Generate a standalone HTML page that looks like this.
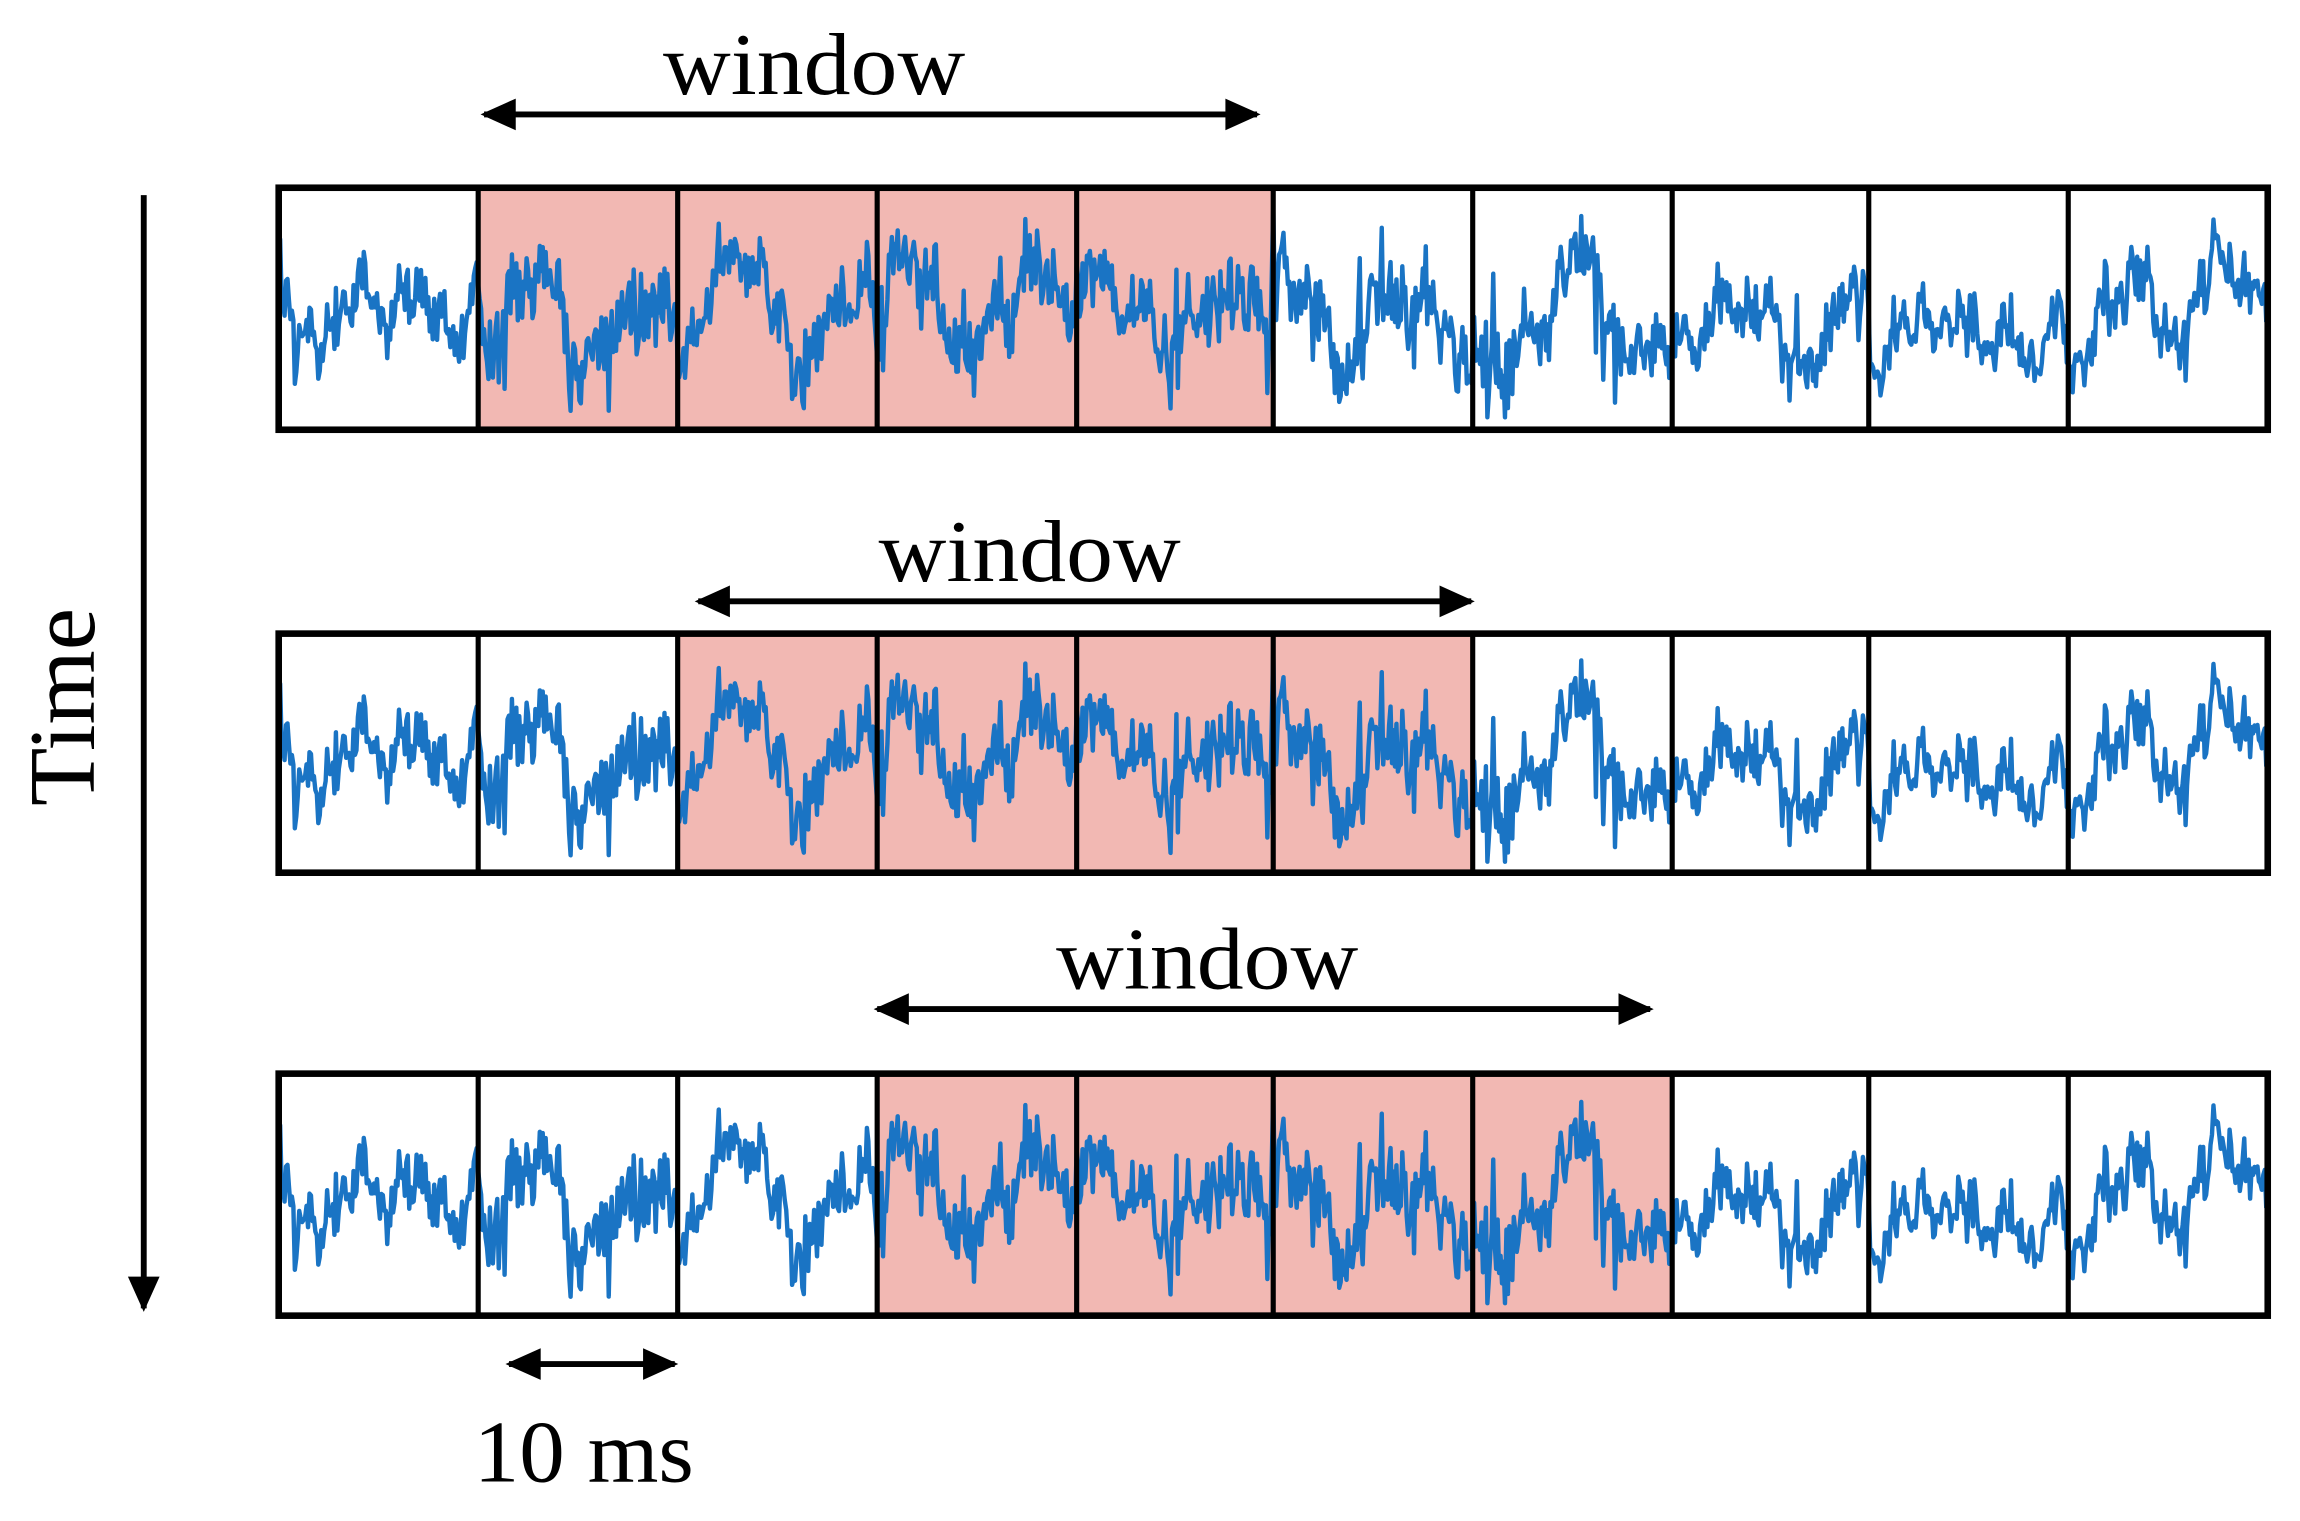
<!DOCTYPE html>
<html><head><meta charset="utf-8"><style>html,body{margin:0;padding:0;background:#fff}svg{display:block}</style></head>
<body>
<svg id="s" width="2300" height="1521" viewBox="0 0 1568 1037" preserveAspectRatio="none" xmlns="http://www.w3.org/2000/svg">
<defs>
<marker id="ah" viewBox="0 0 10 10" refX="9" refY="5" markerWidth="7" markerHeight="6" markerUnits="strokeWidth" orient="auto-start-reverse"><path d="M0,0.5 L10,5 L0,9.5 z" fill="#000"/></marker>
</defs>
<g id="rows"></g>
<g font-family="Liberation Serif, serif" fill="#000">
<text x="555" y="64" font-size="60" text-anchor="middle" textLength="206" lengthAdjust="spacingAndGlyphs">window</text>
<text x="702" y="396" font-size="60" text-anchor="middle" textLength="206" lengthAdjust="spacingAndGlyphs">window</text>
<text x="823" y="674" font-size="60" text-anchor="middle" textLength="206" lengthAdjust="spacingAndGlyphs">window</text>
<text x="398" y="1010" font-size="60" text-anchor="middle" textLength="150" lengthAdjust="spacingAndGlyphs">10 ms</text>
<text transform="translate(64,482) rotate(-90)" font-size="64" text-anchor="middle" textLength="135" lengthAdjust="spacingAndGlyphs">Time</text>
</g>
<g stroke="#000" stroke-width="4" fill="none">
<line x1="330" y1="78" x2="857" y2="78" marker-start="url(#ah)" marker-end="url(#ah)"/>
<line x1="476" y1="410" x2="1003" y2="410" marker-start="url(#ah)" marker-end="url(#ah)"/>
<line x1="598" y1="688" x2="1125" y2="688" marker-start="url(#ah)" marker-end="url(#ah)"/>
<line x1="347" y1="930" x2="460" y2="930" marker-start="url(#ah)" marker-end="url(#ah)"/>
<line x1="98" y1="133" x2="98" y2="892" marker-end="url(#ah)"/>
</g>
</svg>
<script>
(function(){
var ns="http://www.w3.org/2000/svg",g=document.getElementById("rows");
var b=[190,326,462,598,734,868,1004,1140,1274,1410,1546];
var rows=[[128,293,1,4],[432,595,2,5],[732,897,3,6]];
var seed=12345;function r(){seed=(seed*16807)%2147483647;return seed/2147483647;}
var N=1356,sig=[],lp=0;
var amp=[0.9,1.6,1.1,1.1,1.4,1.4,1.5,1.0,0.7,1.0];
for(var i=0;i<N;i++){var c=Math.min(9,Math.floor(i/135.6));
 lp=lp*0.95+(r()-0.5)*9;
 var hf=(r()-0.5)*40*amp[c]*(r()<0.15?1.8:0.7);
 var ph=(i%135.6)/135.6;
 var slow=Math.sin(ph*2*Math.PI*1.5+c)*22*amp[c];
 sig.push(Math.max(-72,Math.min(72,lp*2.5+hf+slow)));}
function el(n,a){var e=document.createElementNS(ns,n);for(var k in a)e.setAttribute(k,a[k]);g.appendChild(e);return e;}
rows.forEach(function(R){
 var t=R[0],bt=R[1];
 for(var c=R[2];c<=R[3];c++)el("rect",{x:b[c],y:t,width:b[c+1]-b[c],height:bt-t,fill:"#f2b8b3"});
 var cy=(t+bt)/2+2,p=[];
 for(var i=0;i<N;i+=1)p.push((190+i)+","+(cy+sig[i]).toFixed(1));
 el("polyline",{points:p.join(" "),fill:"none",stroke:"#1a74c4","stroke-width":3,"stroke-linejoin":"round"});
 el("rect",{x:190,y:t,width:1356,height:bt-t,fill:"none",stroke:"#000","stroke-width":4.5});
 for(var c=1;c<10;c++)el("line",{x1:b[c],y1:t,x2:b[c],y2:bt,stroke:"#000","stroke-width":3.5});
});
})();
</script>
</body></html>
